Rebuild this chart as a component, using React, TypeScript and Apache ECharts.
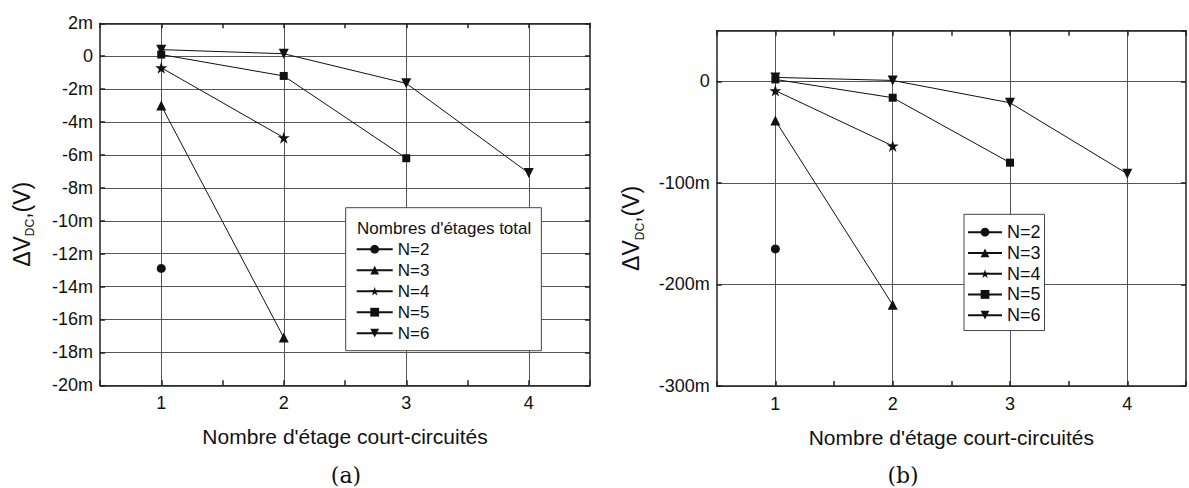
import React, { useEffect, useRef } from "react";
import * as echarts from "echarts";

// Shared x values: number of short-circuited stages
const stages = [1, 2, 3, 4];
const seriesNames = ["N=2", "N=3", "N=4", "N=5", "N=6"];

// Chart (a): ΔV_DC in mV
const aN2 = [-12.9];
const aN3 = [-3.0, -17.1];
const aN4 = [-0.7, -4.95];
const aN5 = [0.1, -1.2, -6.2];
const aN6 = [0.4, 0.15, -1.65, -7.1];

// Chart (b): ΔV_DC in mV
const bN2 = [-165];
const bN3 = [-38.5, -220];
const bN4 = [-9, -63.5];
const bN5 = [2, -16, -80];
const bN6 = [4, 1, -21, -91];

// Axis ranges
const xRange = { min: 0.5, max: 4.5, step: 0.5 };
const yRangeA = { min: -20, max: 2, step: 2 };
const yRangeB = { min: -300, max: 50, step: 100 };

const xTitle = "Nombre d'étage court-circuités";
const legendTitle = "Nombres d'étages total";
const panelLabels = ["(a)", "(b)"];

const STAR =
  "path://M50,0 L61.2,34.5 L97.6,34.5 L68.2,55.9 L79.4,90.5 L50,69.1 L20.6,90.5 L31.8,55.9 L2.4,34.5 L38.8,34.5 Z";
const DOWN_TRI = "path://M0,0 L100,0 L50,87 Z";
const symbols = ["circle", "triangle", STAR, "rect", DOWN_TRI];
const symbolSizes = [9, 10, 12, 8, 10];

const FONT = "'Liberation Sans', Arial, Helvetica, sans-serif";
const INK = "#111";
const AXIS = { color: "#222", width: 1.5 };
const GRIDC = "#555";

function mkSeries(values: number[], idx: number, panel: number) {
  return {
    type: "line",
    name: seriesNames[idx],
    xAxisIndex: panel * 2,
    yAxisIndex: panel * 2,
    data: values.map((v, i) => [stages[i], v]),
    symbol: symbols[idx],
    symbolSize: symbolSizes[idx],
    lineStyle: { color: INK, width: 1 },
    itemStyle: { color: INK },
    z: 3,
  };
}

function mLabel(v: number) {
  const r = Math.round(v);
  return r === 0 ? "0" : `${r}m`;
}

function xAxes(grid: number) {
  return [
    {
      gridIndex: grid,
      type: "value",
      position: "bottom",
      min: xRange.min,
      max: xRange.max,
      interval: xRange.step,
      axisLine: { show: true, onZero: false, lineStyle: AXIS },
      axisTick: { show: true, inside: true, length: 5, lineStyle: AXIS },
      axisLabel: {
        formatter: (v: number) => (Number.isInteger(v) ? String(v) : ""),
        fontSize: 18,
        color: INK,
        fontFamily: FONT,
        margin: 9,
      },
      splitLine: {
        show: true,
        lineStyle: { color: ["rgba(0,0,0,0)", GRIDC], width: 1 },
      },
      name: xTitle,
      nameLocation: "middle",
      nameGap: 41,
      nameTextStyle: { fontSize: 21, color: INK, fontFamily: FONT },
    },
    {
      gridIndex: grid,
      type: "value",
      position: "top",
      min: xRange.min,
      max: xRange.max,
      interval: xRange.step,
      axisLine: { show: true, onZero: false, lineStyle: AXIS },
      axisTick: { show: true, inside: true, length: 5, lineStyle: AXIS },
      axisLabel: { show: false },
      splitLine: { show: false },
    },
  ];
}

function yAxes(grid: number, range: { min: number; max: number; step: number }, nameGap: number) {
  return [
    {
      gridIndex: grid,
      type: "value",
      position: "left",
      min: range.min,
      max: range.max,
      interval: range.step,
      axisLine: { show: true, onZero: false, lineStyle: AXIS },
      axisTick: { show: true, inside: true, length: 5, lineStyle: AXIS },
      axisLabel: {
        formatter: mLabel,
        fontSize: 18,
        color: INK,
        fontFamily: FONT,
        margin: 7,
        showMaxLabel: range.max % range.step === 0,
      },
      splitLine: { show: true, lineStyle: { color: GRIDC, width: 1 } },
      name: "{m|ΔV}{s|DC}{m|,(V)}",
      nameLocation: "middle",
      nameRotate: 90,
      nameGap,
      nameTextStyle: {
        padding: [0, 40, 0, 0],
        rich: {
          m: { fontSize: 23, lineHeight: 23, fontFamily: FONT, color: INK },
          s: { fontSize: 12, lineHeight: 12, padding: [17, 0, 0, 0], fontFamily: FONT, color: INK },
        },
      },
    },
    {
      gridIndex: grid,
      type: "value",
      position: "right",
      min: range.min,
      max: range.max,
      interval: range.step,
      axisLine: { show: true, onZero: false, lineStyle: AXIS },
      axisTick: { show: true, inside: true, length: 5, lineStyle: AXIS },
      axisLabel: { show: false },
      splitLine: { show: false },
    },
  ];
}

export default function App() {
  const ref = useRef<HTMLDivElement>(null);

  useEffect(() => {
    if (!ref.current) return;
    const chart = echarts.init(ref.current, undefined, { renderer: "svg" });
    const aSets = [aN2, aN3, aN4, aN5, aN6];
    const bSets = [bN2, bN3, bN4, bN5, bN6];
    const legendBase = {
      data: seriesNames,
      orient: "vertical",
      itemGap: 0,
      itemHeight: 11,
      backgroundColor: "#fff",
      borderColor: "#444",
      borderWidth: 1,
      selectedMode: false,
    };
    chart.setOption({
      animation: false,
      backgroundColor: "#fff",
      grid: [
        { left: 100, top: 23.3, width: 490, height: 362 },
        { left: 716.7, top: 30.7, width: 481, height: 355.3 },
      ],
      xAxis: [...xAxes(0), ...xAxes(1)],
      yAxis: [...yAxes(0, yRangeA, 67), ...yAxes(1, yRangeB, 74)],
      legend: [
        {
          ...legendBase,
          left: 345.7,
          top: 207.7,
          padding: [31, 112, 7, 10],
          itemWidth: 36,
          textStyle: { fontSize: 17, color: INK, fontFamily: FONT, lineHeight: 21 },
        },
        {
          ...legendBase,
          left: 964,
          top: 214.3,
          padding: [7.5, 4, 5, 3],
          itemWidth: 34,
          textStyle: { fontSize: 18, color: INK, fontFamily: FONT, lineHeight: 20.75 },
        },
      ],
      graphic: [
        {
          type: "text",
          x: 357,
          y: 228,
          z: 100,
          style: {
            text: legendTitle,
            font: `17px ${FONT}`,
            fill: INK,
            textAlign: "left",
            textVerticalAlign: "middle",
          },
        },
        {
          type: "text",
          x: 346,
          y: 475,
          style: {
            text: panelLabels[0],
            font: "22px 'DejaVu Serif', 'Liberation Serif', serif",
            fill: INK,
            textAlign: "center",
            textVerticalAlign: "middle",
          },
        },
        {
          type: "text",
          x: 903,
          y: 475,
          style: {
            text: panelLabels[1],
            font: "22px 'DejaVu Serif', 'Liberation Serif', serif",
            fill: INK,
            textAlign: "center",
            textVerticalAlign: "middle",
          },
        },
      ],
      series: [
        ...aSets.map((s, i) => mkSeries(s, i, 0)),
        ...bSets.map((s, i) => mkSeries(s, i, 1)),
      ],
    });
    return () => chart.dispose();
  }, []);

  return (
    <div
      ref={ref}
      style={{ position: "absolute", left: 0, top: 0, width: 1189, height: 488 }}
    />
  );
}
